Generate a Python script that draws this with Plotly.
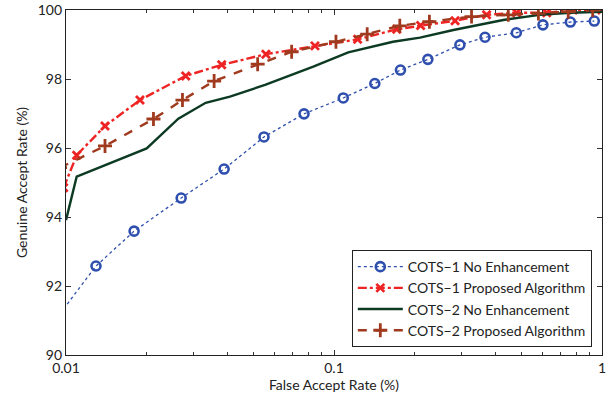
import plotly.graph_objects as go

# COTS-1 No Enhancement (first point lies just left of axis, clipped)
far1 = [0.0095, 0.01294, 0.01795, 0.0269, 0.0389, 0.0548, 0.0773, 0.1083, 0.142, 0.177, 0.224, 0.295, 0.366, 0.479, 0.602, 0.762, 0.936]
gar1 = [91.2, 92.58, 93.59, 94.55, 95.39, 96.32, 96.99, 97.45, 97.87, 98.26, 98.57, 98.99, 99.21, 99.34, 99.57, 99.65, 99.68]

# COTS-1 Proposed Algorithm
far2 = [0.0098, 0.01096, 0.01398, 0.01888, 0.02797, 0.0381, 0.0557, 0.0849, 0.1225, 0.1714, 0.2105, 0.283, 0.371, 0.480, 0.622, 0.78, 1.0]
gar2 = [94.85, 95.79, 96.64, 97.39, 98.09, 98.41, 98.72, 98.96, 99.15, 99.44, 99.55, 99.69, 99.86, 99.92, 99.92, 100.0, 100.0]

# COTS-2 No Enhancement
far3 = [0.01, 0.01096, 0.02, 0.02625, 0.0332, 0.0409, 0.0553, 0.0837, 0.113, 0.166, 0.2094, 0.279, 0.428, 0.585, 0.76, 1.0]
gar3 = [93.91, 95.17, 95.99, 96.85, 97.31, 97.49, 97.83, 98.36, 98.77, 99.08, 99.2, 99.42, 99.71, 99.86, 99.92, 99.95]

# COTS-2 Proposed Algorithm
far4 = [0.0095, 0.01398, 0.0212, 0.0272, 0.0357, 0.0519, 0.0695, 0.1017, 0.133, 0.176, 0.227, 0.326, 0.447, 0.579, 0.748, 0.923]
gar4 = [95.43, 96.06, 96.84, 97.39, 97.94, 98.43, 98.79, 99.08, 99.30, 99.54, 99.66, 99.81, 99.86, 99.90, 99.95, 100.0]

names = ["COTS\u22121 No Enhancement", "COTS\u22121 Proposed Algorithm",
         "COTS\u22122 No Enhancement", "COTS\u22122 Proposed Algorithm"]

FONT = "Lato"
fig = go.Figure()

fig.add_trace(go.Scatter(x=far1, y=gar1, name=names[0], mode="lines+markers",
    line=dict(color="#2f4fae", width=1.3, dash="dot"),
    marker=dict(symbol="circle-open", size=9, color="#2f4fae", line=dict(width=2.6, color="#2f4fae"))))
fig.add_trace(go.Scatter(x=far2, y=gar2, name=names[1], mode="lines+markers",
    line=dict(color="#ee2424", width=2.4, dash="dashdot"),
    marker=dict(symbol="x-thin-open", size=8, color="#ee2424", line=dict(width=2.8, color="#ee2424"))))
fig.add_trace(go.Scatter(x=far3, y=gar3, name=names[2], mode="lines",
    line=dict(color="#0c3a22", width=2.4)))
fig.add_trace(go.Scatter(x=far4, y=gar4, name=names[3], mode="lines+markers",
    line=dict(color="#a03a1e", width=2.4, dash="dash"),
    marker=dict(symbol="cross-thin-open", size=10, color="#a03a1e", line=dict(width=2.8, color="#a03a1e"))))

minor_x = [v * 0.01 for v in range(2, 10)] + [v * 0.1 for v in range(2, 10)]

fig.update_layout(
    width=612, height=396,
    margin=dict(l=66, r=10, t=10, b=41, autoexpand=False),
    plot_bgcolor="white", paper_bgcolor="white",
    font=dict(family=FONT, size=14, color="#222"),
    showlegend=True,
    legend=dict(x=0.981, y=0.023, xanchor="right", yanchor="bottom",
                bgcolor="white", bordercolor="#222", borderwidth=1,
                font=dict(family=FONT, size=14, color="#222"),
                itemwidth=45, tracegroupgap=0),
)
fig.update_xaxes(type="log", range=[-2, 0], automargin=False,
    tickvals=[0.01, 0.1, 1], ticktext=["0.01", "0.1", "1"],
    ticks="inside", ticklen=5, tickcolor="#333",
    minor=dict(tickvals=minor_x, ticks="inside", ticklen=3, tickcolor="#333"),
    showline=True, linecolor="#222", linewidth=1.3, mirror="ticks",
    showgrid=False, zeroline=False,
    title=dict(text="False Accept Rate (%)", font=dict(size=14), standoff=0))
fig.update_yaxes(range=[90, 100], tickvals=[90, 92, 94, 96, 98, 100], automargin=False,
    ticks="inside", ticklen=5, tickcolor="#333",
    showline=True, linecolor="#222", linewidth=1.3, mirror="ticks",
    showgrid=False, zeroline=False,
    title=dict(text="Genuine Accept Rate (%)", font=dict(size=14), standoff=6))

fig.write_html("out.html", config={"displayModeBar": False},
               post_script="document.body.style.margin='0';document.body.style.padding='0';")
